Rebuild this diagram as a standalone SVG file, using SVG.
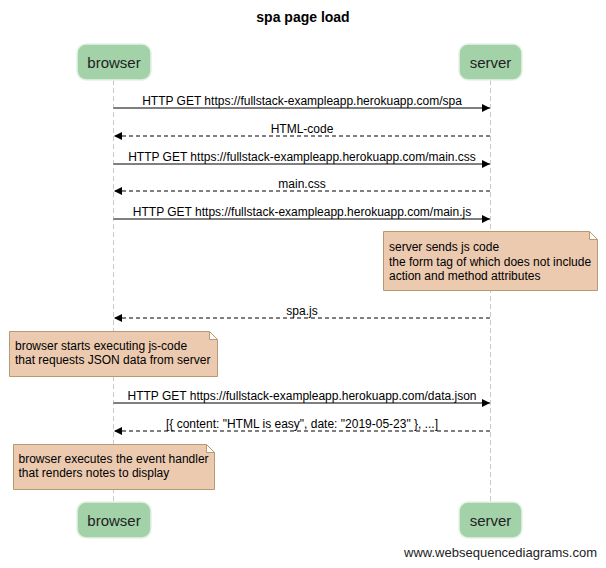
<svg xmlns="http://www.w3.org/2000/svg" width="606" height="568" viewBox="0 0 606 568">
<defs>
<marker id="ah" viewBox="0 0 10 10" refX="10" refY="5" markerWidth="8" markerHeight="8" markerUnits="userSpaceOnUse" orient="auto">
<path d="M0,0 L10,5 L0,10 Z" fill="#000"/>
</marker>
</defs>
<style>
text{font-family:"Liberation Sans",Arial,sans-serif;fill:#000}
.title{font-size:14px;font-weight:bold}
.actor rect{fill:#a3d2a9;stroke:#e6f2e8;stroke-width:1.5}
.actor text{font-size:15px;fill:#222}
.life{stroke:#c8c8c8;stroke-width:1;stroke-dasharray:5,3;fill:none}
.msg{stroke:#000;stroke-width:1;fill:none;marker-end:url(#ah)}
.dash{stroke-dasharray:4,3}
.lbl{font-size:12px;text-anchor:middle}
.note path{fill:#ebcab0;stroke:#b89a72;stroke-width:1}
.note text{font-size:12px}
.wm{font-size:13px;fill:#222}
</style>
<rect width="606" height="568" fill="#fff"/>
<text class="title" x="303" y="22" text-anchor="middle">spa page load</text>
<g id="lifelines">
<line class="life" x1="113.5" y1="80" x2="113.5" y2="502"/>
<line class="life" x1="490.5" y1="80" x2="490.5" y2="502"/>
</g>
<g id="browser" class="actor">
<rect x="77" y="44" width="74" height="36" rx="9"/>
<text x="114" y="67.5" text-anchor="middle">browser</text>
</g>
<g id="server" class="actor">
<rect x="459" y="44" width="63" height="36" rx="9"/>
<text x="490.5" y="67.5" text-anchor="middle">server</text>
</g>
<g id="browser-bottom" class="actor">
<rect x="77" y="502" width="74" height="36" rx="9"/>
<text x="114" y="525.5" text-anchor="middle">browser</text>
</g>
<g id="server-bottom" class="actor">
<rect x="459" y="502" width="63" height="36" rx="9"/>
<text x="490.5" y="525.5" text-anchor="middle">server</text>
</g>
<g id="connectors">
<line class="msg" x1="113.5" y1="108" x2="490" y2="108"/>
<text class="lbl" x="302" y="104.5">HTTP GET https://fullstack-exampleapp.herokuapp.com/spa</text>
<line class="msg dash" x1="490" y1="136" x2="114" y2="136"/>
<text class="lbl" x="302" y="132.5">HTML-code</text>
<line class="msg" x1="113.5" y1="164" x2="490" y2="164"/>
<text class="lbl" x="302" y="160.5">HTTP GET https://fullstack-exampleapp.herokuapp.com/main.css</text>
<line class="msg dash" x1="490" y1="191" x2="114" y2="191"/>
<text class="lbl" x="302" y="187.5">main.css</text>
<line class="msg" x1="113.5" y1="219" x2="490" y2="219"/>
<text class="lbl" x="302" y="215.5">HTTP GET https://fullstack-exampleapp.herokuapp.com/main.js</text>
<line class="msg dash" x1="490" y1="318" x2="114" y2="318"/>
<text class="lbl" x="302" y="314.5">spa.js</text>
<line class="msg" x1="113.5" y1="403" x2="490" y2="403"/>
<text class="lbl" x="302" y="399.5">HTTP GET https://fullstack-exampleapp.herokuapp.com/data.json</text>
<line class="msg dash" x1="490" y1="431" x2="114" y2="431"/>
<text class="lbl" x="302" y="427.5">[{ content: "HTML is easy", date: "2019-05-23" }, ...]</text>
</g>
<g id="note-server" class="note">
<path d="M383.5,231.5 H589.5 L597.5,239.5 V290.5 H383.5 Z M589.5,231.5 V239.5 H597.5"/>
<text x="389" y="251">server sends js code</text>
<text x="389" y="265.5">the form tag of which does not include</text>
<text x="389" y="280">action and method attributes</text>
</g>
<g id="note-browser-1" class="note">
<path d="M9.5,331.5 H209.5 L217.5,339.5 V376.5 H9.5 Z M209.5,331.5 V339.5 H217.5"/>
<text x="15" y="349.5">browser starts executing js-code</text>
<text x="15" y="364">that requests JSON data from server</text>
</g>
<g id="note-browser-2" class="note">
<path d="M13.5,444.5 H206.5 L214.5,452.5 V489.5 H13.5 Z M206.5,444.5 V452.5 H214.5"/>
<text x="18.5" y="462.5">browser executes the event handler</text>
<text x="18.5" y="477">that renders notes to display</text>
</g>
<text class="wm" x="597" y="557" text-anchor="end">www.websequencediagrams.com</text>
</svg>
